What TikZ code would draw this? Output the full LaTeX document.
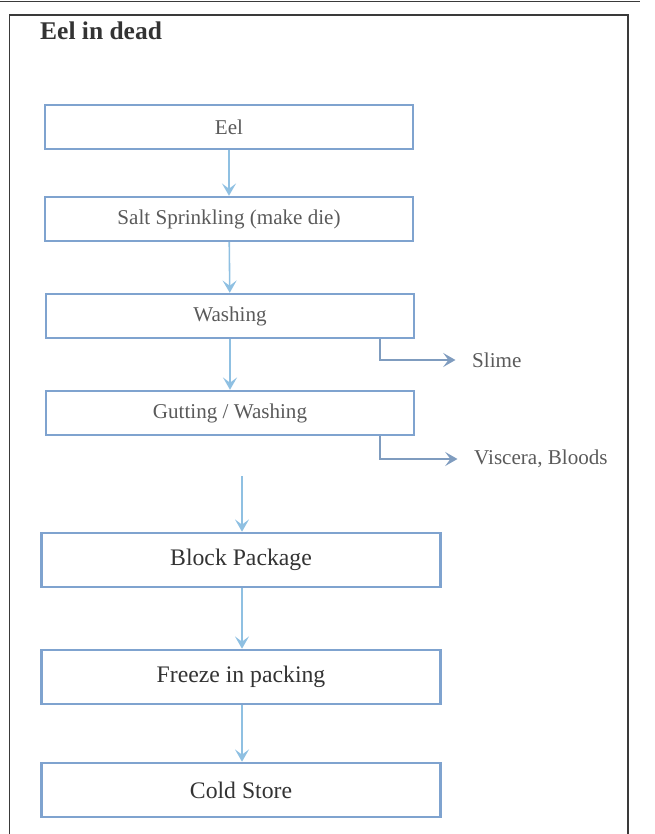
\documentclass[tikz,border=0pt]{standalone}
\usepackage{fontspec}
\setmainfont{Liberation Serif}
\usetikzlibrary{arrows.meta}
\definecolor{boxblue}{HTML}{7FA3CF}
\definecolor{arrowblue}{HTML}{8FC0E2}
\definecolor{framegray}{HTML}{3A3A3A}
\definecolor{textgray}{HTML}{5A5A5A}
\tikzset{
  smallbox/.style={draw=boxblue,line width=1.4pt,minimum width=7.36cm,minimum height=0.88cm,
    text=textgray,font=\fontsize{12}{14}\selectfont,inner sep=0pt},
  bigbox/.style={draw=boxblue,line width=1.5pt,minimum width=7.98cm,minimum height=1.08cm,
    text=black!80,font=\fontsize{13.5}{16}\selectfont,inner sep=0pt},
  flow/.style={draw=arrowblue,line width=0.9pt,-{Stealth[length=7pt,width=8pt,inset=3pt]}},
  side/.style={draw=boxblue!80!gray,line width=0.8pt,-{Stealth[length=7pt,width=8pt,inset=3pt]},
    shorten >=6pt},
  waste/.style={text=textgray,font=\fontsize{12}{14}\selectfont,anchor=west}
}
\begin{document}
\begin{tikzpicture}[x=0.02cm,y=-0.02cm]
\useasboundingbox (0,0) rectangle (655,834);
\clip (0,0) rectangle (655,834);
\draw[framegray,line width=0.6pt] (0,1.5) -- (640,1.5);
\draw[framegray,line width=1.1pt] (9.5,840) -- (9.5,15) -- (628,15) -- (628,840);
\node[anchor=west,font=\bfseries\fontsize{14.5}{17}\selectfont,text=black!80] (title) at (34,31) {Eel in dead};
\node[smallbox] (eel) at (229,127) {Eel};
\node[smallbox] (salt) at (229,219) {Salt Sprinkling (make die)};
\node[smallbox] (wash) at (230,316) {Washing};
\node[smallbox] (gut) at (230,413) {Gutting / Washing};
\node[bigbox] (block) at (241,560) {Block Package};
\node[bigbox] (freeze) at (241,677) {Freeze in packing};
\node[bigbox] (cold) at (241,790) {Cold Store};
\node[waste] (slime) at (466,360) {Slime};
\node[waste] (viscera) at (468,459) {Viscera, Bloods};
\coordinate (gap) at (242,476);
\coordinate (turn) at (380,0);
\draw[flow] (eel) -- (salt);
\draw[flow] (salt) -- (wash);
\draw[flow] (wash) -- (gut);
\draw[flow] (gap) -- (block.north -| gap);
\draw[flow] (block.south -| gap) -- (freeze.north -| gap);
\draw[flow] (freeze.south -| gap) -- (cold.north -| gap);
\draw[side] (wash.south -| turn) |- (slime.west);
\draw[side] (gut.south -| turn) |- (viscera.west);
\end{tikzpicture}
\end{document}
